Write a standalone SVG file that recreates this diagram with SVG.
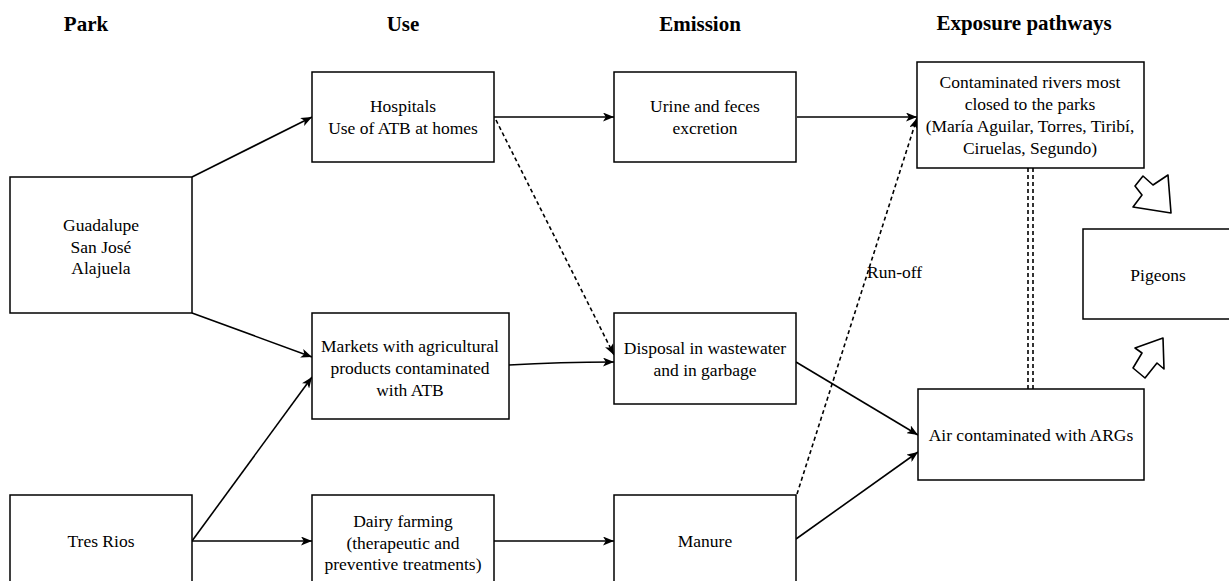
<svg xmlns="http://www.w3.org/2000/svg" width="1229" height="581" viewBox="0 0 1229 581">
<style>
.box{fill:#fff;stroke:#000;stroke-width:1.5}
.t{font-family:"Liberation Serif","Times New Roman",serif;font-size:17.5px;text-anchor:middle;dominant-baseline:central;fill:#000}
.h{font-family:"Liberation Serif","Times New Roman",serif;font-size:21px;font-weight:bold;text-anchor:middle;dominant-baseline:central;fill:#000}
.c{fill:none;stroke:#000;stroke-width:1.6}
.d{stroke-dasharray:4 3}
.blk{fill:#fff;stroke:#000;stroke-width:1.6;stroke-linejoin:round}
</style>
<defs>
<marker id="ah" viewBox="0 0 11 9" refX="11" refY="4.5" markerWidth="11" markerHeight="9" markerUnits="userSpaceOnUse" orient="auto">
<path d="M0,0 L11,4.5 L0,9 L2.8,4.5 Z" fill="#000"/>
</marker>
</defs>
<rect width="1229" height="581" fill="#fff"/>
<g id="headers">
<text class="h" x="86" y="24">Park</text>
<text class="h" x="403" y="24">Use</text>
<text class="h" x="700" y="24">Emission</text>
<text class="h" x="1024" y="23">Exposure pathways</text>
</g>
<g id="connectors">
<line class="c" x1="192" y1="177" x2="312" y2="117" marker-end="url(#ah)"/>
<line class="c" x1="192" y1="313" x2="312" y2="357" marker-end="url(#ah)"/>
<line class="c" x1="192" y1="541" x2="312" y2="377" marker-end="url(#ah)"/>
<line class="c" x1="192" y1="541" x2="312" y2="541" marker-end="url(#ah)"/>
<line class="c" x1="494" y1="117" x2="614" y2="117" marker-end="url(#ah)"/>
<line class="c d" x1="496" y1="120" x2="614" y2="355" marker-end="url(#ah)"/>
<path class="c" d="M509,365 Q560,362 614,362" marker-end="url(#ah)"/>
<line class="c" x1="494" y1="541" x2="614" y2="541" marker-end="url(#ah)"/>
<line class="c" x1="797" y1="117" x2="917" y2="117" stroke-width="2.2" marker-end="url(#ah)"/>
<line class="c d" x1="797" y1="494" x2="917" y2="118" marker-end="url(#ah)"/>
<line class="c" x1="796" y1="362" x2="918" y2="435" marker-end="url(#ah)"/>
<line class="c" x1="796" y1="539" x2="918" y2="452" marker-end="url(#ah)"/>
<line class="c d" x1="1028" y1="168" x2="1028" y2="389"/>
<line class="c d" x1="1033" y1="168" x2="1033" y2="389" stroke-width="2"/>
<text class="t" x="867" y="272" style="text-anchor:start">Run-off</text>
</g>
<g id="arrow-rivers-pigeons">
<polygon class="blk" points="1143,176 1153,185 1168,175 1171,213 1133,207 1142,195 1135,186"/>
</g>
<g id="arrow-air-pigeons">
<polygon class="blk" points="1163,338 1164,369 1157,363 1145,378 1133,368 1142,353 1135,348"/>
</g>
<g id="guadalupe">
<rect class="box" x="10" y="177" width="182" height="136"/>
<text class="t" x="101" y="225">Guadalupe</text>
<text class="t" x="101" y="247">San José</text>
<text class="t" x="101" y="268">Alajuela</text>
</g>
<g id="tresrios">
<rect class="box" x="10" y="495" width="182" height="100"/>
<text class="t" x="101" y="541">Tres Rios</text>
</g>
<g id="hospitals">
<rect class="box" x="312" y="72" width="182" height="90"/>
<text class="t" x="403" y="106">Hospitals</text>
<text class="t" x="403" y="128">Use of ATB at homes</text>
</g>
<g id="markets">
<rect class="box" x="312" y="313" width="197" height="106"/>
<text class="t" x="410" y="346">Markets with agricultural</text>
<text class="t" x="410" y="368">products contaminated</text>
<text class="t" x="410" y="390">with ATB</text>
</g>
<g id="dairy">
<rect class="box" x="312" y="495" width="182" height="100"/>
<text class="t" x="403" y="521">Dairy farming</text>
<text class="t" x="403" y="543">(therapeutic and</text>
<text class="t" x="403" y="564">preventive treatments)</text>
</g>
<g id="urine">
<rect class="box" x="614" y="72" width="182" height="90"/>
<text class="t" x="705" y="106">Urine and feces</text>
<text class="t" x="705" y="128">excretion</text>
</g>
<g id="disposal">
<rect class="box" x="614" y="313" width="182" height="91"/>
<text class="t" x="705" y="348">Disposal in wastewater</text>
<text class="t" x="705" y="370">and in garbage</text>
</g>
<g id="manure">
<rect class="box" x="614" y="495" width="182" height="100"/>
<text class="t" x="705" y="541">Manure</text>
</g>
<g id="rivers">
<rect class="box" x="917" y="62" width="227" height="106"/>
<text class="t" x="1030" y="82">Contaminated rivers most</text>
<text class="t" x="1030" y="104">closed to the parks</text>
<text class="t" x="1030" y="126">(María Aguilar, Torres, Tiribí,</text>
<text class="t" x="1030" y="148">Ciruelas, Segundo)</text>
</g>
<g id="air">
<rect class="box" x="918" y="389" width="226" height="91"/>
<text class="t" x="1031" y="435">Air contaminated with ARGs</text>
</g>
<g id="pigeons">
<rect class="box" x="1083" y="229" width="160" height="90"/>
<text class="t" x="1158" y="275">Pigeons</text>
</g>
</svg>
